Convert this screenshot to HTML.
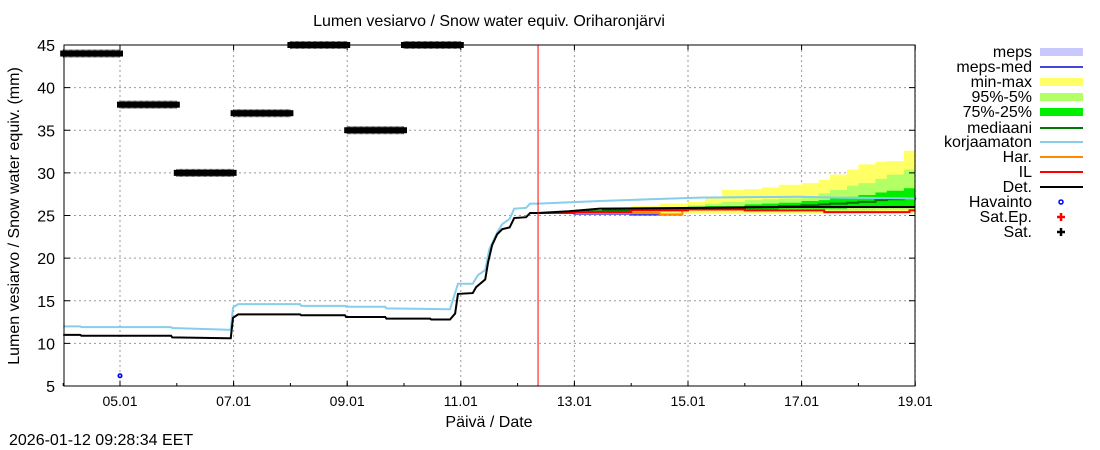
<!DOCTYPE html>
<html><head><meta charset="utf-8">
<style>
body{margin:0;background:#fff;}
svg{display:block;font-family:"Liberation Sans",sans-serif;}
</style></head>
<body>
<svg id="chart" width="1100" height="450" xmlns="http://www.w3.org/2000/svg">
<rect width="1100" height="450" fill="#fff"/>
<g id="grid"></g>
<g id="bands"></g>
<g id="lines"></g>
<g id="marks"></g>
<g id="axes"></g>
<text x="489" y="26" text-anchor="middle" font-size="16">Lumen vesiarvo / Snow water equiv.  Oriharonjärvi</text>
<text x="489" y="427" text-anchor="middle" font-size="16">Päivä / Date</text>
<text transform="translate(19,216) rotate(-90)" text-anchor="middle" font-size="16">Lumen vesiarvo / Snow water equiv. (mm)</text>
<text x="9" y="445" font-size="16">2026-01-12 09:28:34 EET</text>
<g id="legend"></g>
</svg>
<script>
// ---- data (x in days since 04.01 00:00) ----
const xTickLabels=["05.01","07.01","09.01","11.01","13.01","15.01","17.01","19.01"];
const xTickDays=[1,3,5,7,9,11,13,15];
const yTicks=[5,10,15,20,25,30,35,40,45];
const nowDay=8.36;
const detDays=[0,0.3,0.32,1.9,1.92,2.9,2.95,2.99,3.08,4.17,4.19,4.96,4.98,5.67,5.69,6.46,6.48,6.81,6.9,6.95,7.21,7.27,7.43,7.48,7.55,7.64,7.73,7.86,7.94,8.15,8.22,8.36,8.9,9.45,11.2,12.9,15];
const detVals=[11.0,11.0,10.9,10.9,10.7,10.6,10.6,13.0,13.4,13.4,13.3,13.3,13.1,13.1,12.9,12.9,12.8,12.8,13.5,15.8,15.9,16.6,17.5,19.5,21.5,22.8,23.4,23.6,24.7,24.8,25.3,25.3,25.5,25.8,25.9,26.0,26.0];
const korDays=[0,0.3,0.32,1.9,1.92,2.9,2.95,2.99,3.08,4.17,4.19,4.96,4.98,5.67,5.69,6.81,6.95,7.21,7.3,7.43,7.5,7.64,7.73,7.86,7.94,8.15,8.22,8.36,9.45,10.33,11.2,12.96,13.66,15];
const korVals=[12.0,12.0,11.9,11.9,11.8,11.6,11.6,14.2,14.6,14.6,14.4,14.4,14.3,14.3,14.1,14.0,17.0,17.0,18.0,18.6,21.0,23.0,24.0,24.6,25.8,25.9,26.4,26.4,26.7,26.9,27.1,27.2,27.1,27.0];
const bandDays=[8.36,9.0,9.5,10.0,10.5,11.0,11.3,11.6,12.0,12.3,12.6,13.0,13.3,13.5,13.8,14.0,14.3,14.5,14.8,15.0];
const minVals=[25.3,25.2,25.2,25.2,25.2,25.2,25.2,25.2,25.2,25.2,25.2,25.2,25.2,25.2,25.2,25.2,25.2,25.2,25.2,25.3];
const maxVals=[25.3,25.6,25.9,26.1,26.4,26.6,27.0,28.0,28.1,28.3,28.6,28.8,29.2,29.8,30.4,31.0,31.3,31.4,32.6,33.0];
const p5Vals=[25.3,25.4,25.4,25.5,25.5,25.6,25.6,25.6,25.6,25.6,25.6,25.6,25.6,25.6,25.6,25.6,25.7,25.7,25.7,25.8];
const p95Vals=[25.3,25.6,25.7,25.9,26.0,26.2,26.4,26.6,26.8,26.9,27.0,27.2,27.6,28.0,28.5,28.8,29.3,29.8,30.4,30.5];
const p25Vals=[25.3,25.5,25.5,25.6,25.6,25.7,25.7,25.7,25.7,25.7,25.8,25.8,25.8,25.8,25.9,25.9,25.9,25.9,26.0,26.0];
const p75Vals=[25.3,25.6,25.7,25.8,25.9,26.0,26.1,26.1,26.3,26.4,26.5,26.7,26.8,27.0,27.2,27.4,27.7,27.9,28.2,28.3];
const medVals=[25.3,25.5,25.6,25.7,25.8,25.9,25.9,25.9,26.0,26.0,26.1,26.2,26.3,26.4,26.5,26.6,26.8,26.9,27.0,27.1];
const ilDays=[8.36,9.0,10.0,11.0,12.0,13.4,14.1,14.9,15];
const ilVals=[25.3,25.4,25.6,25.7,25.6,25.4,25.4,25.6,25.6];
const harDays=[8.36,9.0,10.0,10.5,10.9];
const harVals=[25.3,25.3,25.3,25.1,25.5];
const mepsDays=[8.36,9.0,10.0,10.9];
const mepsVals=[25.3,25.2,25.1,25.1];
const satStart=[0,1,2,3,4,5,6];
const satEnd=[1,2,3,4,5,6,7];
const satVals=[44,38,30,37,45,35,45];
const havDays=[1];
const havVals=[6.2];

// ---- axes ----
const X0=63.2, PXD=56.8, L=64, R=915, T=45, B=386;
const sx=d=>X0+d*PXD;
const sy=v=>B-(v-5)*(B-T)/40;
const NS="http://www.w3.org/2000/svg";
function mk(tag,attrs,parent){const e=document.createElementNS(NS,tag);for(const k in attrs)e.setAttribute(k,attrs[k]);document.getElementById(parent).appendChild(e);return e;}

xTickDays.forEach((d,i)=>{
  const x=sx(d);
  const g=mk('line',{x1:x,x2:x,y1:T,y2:B,stroke:'#999','stroke-dasharray':'2,3'},'grid');
  
  
  const t=mk('text',{x:x,y:B+20,'text-anchor':'middle','font-size':'14'},'axes');
  t.textContent=xTickLabels[i];
  
  
  mk('line',{x1:x,x2:x,y1:B,y2:B-5,stroke:'#000'},'axes');
  mk('line',{x1:x,x2:x,y1:T,y2:T+5,stroke:'#000'},'axes');
});
for(let d=0;d<=15;d++){mk('line',{x1:sx(d),x2:sx(d),y1:B,y2:B-3,stroke:'#000'},'axes');}
yTicks.forEach(v=>{
  const y=sy(v);
  if(v>5&&v<45){const g=mk('line',{x1:L,x2:R,y1:y,y2:y,stroke:'#999','stroke-dasharray':'2,3'},'grid');
  
  }
  const t=mk('text',{x:L-9,y:y+6,'text-anchor':'end','font-size':'16'},'axes');
  t.textContent=v;
  
  
  mk('line',{x1:L,x2:L+6,y1:y,y2:y,stroke:'#000'},'axes');
  mk('line',{x1:R,x2:R-6,y1:y,y2:y,stroke:'#000'},'axes');
});
const frame=mk('rect',{x:L,y:T,width:R-L,height:B-T,fill:'none',stroke:'#000'},'axes');



function stepPts(days,vals){let p=[];for(let i=0;i<days.length;i++){if(i>0)p.push([sx(days[i]),sy(vals[i-1])]);p.push([sx(days[i]),sy(vals[i])]);}return p;}
function linPts(days,vals){return days.map((d,i)=>[sx(d),sy(vals[i])]);}
function band(days,lo,hi,color,name){
  const up=stepPts(days,hi), dn=stepPts(days,lo).reverse();
  const e=mk('polygon',{points:up.concat(dn).map(p=>p.join(',')).join(' '),fill:color},'bands');
  
  
}
function line(days,vals,color,w,name,lin){
  const pts=lin?linPts(days,vals):stepPts(days,vals);
  const e=mk('polyline',{points:pts.map(p=>p.join(',')).join(' '),fill:'none',stroke:color,'stroke-width':w},'lines');
  
  
}
band(bandDays,minVals,maxVals,'#ffff66','min-max-band');
band(bandDays,p5Vals,p95Vals,'#b3ff66','p95-p5-band');
band(bandDays,p25Vals,p75Vals,'#00ee00','p75-p25-band');
line(bandDays,medVals,'#007700',2,'median-line');
line(mepsDays,mepsVals,'#4444dd',2,'meps-med-line');
line(harDays,harVals,'#ff8800',2,'har-line');
line(ilDays,ilVals,'#ff0000',2,'il-line');
line(korDays,korVals,'#87ceeb',2,'korjaamaton-line',true);
line(detDays,detVals,'#000',2,'det-line',true);
const nl=mk('line',{x1:sx(nowDay),x2:sx(nowDay),y1:T,y2:B,stroke:'#ff0000','stroke-width':1},'lines');



satVals.forEach((v,i)=>{
  const y=sy(v), x1=sx(satStart[i]), x2=sx(satEnd[i]);
  const r=mk('rect',{x:x1-3,y:y-3,width:x2-x1+6,height:6,fill:'#000'},'marks');
  
  
  for(let x=x1;x<=x2;x+=1.2){mk('line',{x1:x,x2:x,y1:y-4,y2:y+4,stroke:'#000','stroke-width':0.6},'marks');}
});
havDays.forEach((d,i)=>{
  const c=mk('circle',{cx:sx(d),cy:sy(havVals[i]),r:1.8,fill:'none',stroke:'#0000ff','stroke-width':1.5},'marks');
  
  
});

// ---- legend ----
const legNames=["meps","meps-med","min-max","95%-5%","75%-25%","mediaani","korjaamaton","Har.","IL","Det.","Havainto","Sat.Ep.","Sat."];
const legY=[52,67,82,97,112,128,142,157,172,187,202,217,232];
legNames.forEach((n,i)=>{
  const y=legY[i];
  const t=mk('text',{x:1032,y:y+5,'text-anchor':'end','font-size':'16'},'legend');
  t.textContent=n;
  
  
  let e;
  if(i==0) e=mk('rect',{x:1040,y:y-4,width:43,height:8,fill:'#c8c8ff'},'legend');
  else if(i==2) e=mk('rect',{x:1040,y:y-4,width:43,height:8,fill:'#ffff66'},'legend');
  else if(i==3) e=mk('rect',{x:1040,y:y-4,width:43,height:8,fill:'#b3ff66'},'legend');
  else if(i==4) e=mk('rect',{x:1040,y:y-4,width:43,height:8,fill:'#00ee00'},'legend');
  else if(i==10) e=mk('circle',{cx:1061,cy:y,r:2,fill:'none',stroke:'#0000ff','stroke-width':1.5},'legend');
  else if(i==11||i==12){e=mk('path',{d:`M${1057},${y}h8M1061,${y-4}v8`,stroke:i==11?'#ff0000':'#000','stroke-width':2.5},'legend');}
  else{const cols={1:'#4444dd',5:'#007700',6:'#87ceeb',7:'#ff8800',8:'#ff0000',9:'#000'};
    e=mk('line',{x1:1040,x2:1083,y1:y,y2:y,stroke:cols[i],'stroke-width':2},'legend');}
  
  
});
</script>
</body></html>
